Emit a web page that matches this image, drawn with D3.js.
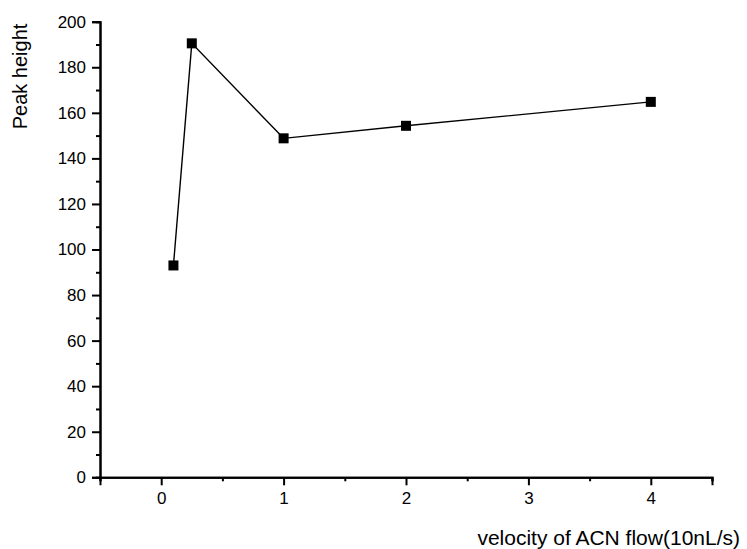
<!DOCTYPE html>
<html>
<head>
<meta charset="utf-8">
<script src="https://cdn.jsdelivr.net/npm/d3@7"></script>
<style>
  html, body { margin: 0; padding: 0; background: #fff; }
  svg { display: block; font-family: "Liberation Sans", Arial, sans-serif; }
</style>
</head>
<body>
<svg id="chart" width="747" height="549"></svg>
<script>
// data
var velocity = [0.1, 0.25, 1, 2, 4];
var peakHeight = [93, 190.5, 148.8, 154.3, 164.8];
var xTicks = [0, 1, 2, 3, 4];
var yTicks = [0, 20, 40, 60, 80, 100, 120, 140, 160, 180, 200];

var svg = d3.select('#chart');

var x = d3.scaleLinear().domain([-0.5, 4.5]).range([100, 712]);
var y = d3.scaleLinear().domain([0, 200]).range([477.3, 21.7]);

var points = velocity.map(function(v, i) {
  return { x: v, y: peakHeight[i] };
});

// minor ticks first so major ones sit on top
var xMinor = d3.range(-0.5, 4.51, 0.5).filter(function(t) { return t % 1 !== 0; });
var yMinor = d3.range(10, 200, 20);

var xAxisG = svg.append('g').attr('transform', 'translate(0,' + y(0) + ')');
xAxisG.call(d3.axisBottom(x).tickValues(xMinor).tickSize(4).tickFormat(''));
xAxisG.append('g')
  .call(d3.axisBottom(x).tickValues(xTicks).tickSize(8).tickPadding(7)
    .tickFormat(d3.format('d')));

var yAxisG = svg.append('g').attr('transform', 'translate(' + x(-0.5) + ',0)');
yAxisG.call(d3.axisLeft(y).tickValues(yMinor).tickSize(4).tickFormat(''));
yAxisG.append('g')
  .call(d3.axisLeft(y).tickValues(yTicks).tickSize(8).tickPadding(6)
    .tickFormat(d3.format('d')));

svg.selectAll('.domain').attr('stroke', '#000').attr('stroke-width', 2);
svg.selectAll('.tick line').attr('stroke', '#000').attr('stroke-width', 2);
svg.selectAll('.tick text')
  .attr('fill', '#000')
  .style('font-size', '17px')
  .style('font-family', '"Liberation Sans", Arial, sans-serif');

// data line
var line = d3.line()
  .x(function(d) { return x(d.x); })
  .y(function(d) { return y(d.y); });

svg.append('path')
  .datum(points)
  .attr('d', line)
  .attr('fill', 'none')
  .attr('stroke', '#000')
  .attr('stroke-width', 1.4);

var size = 10;
svg.selectAll('.pt')
  .data(points)
  .enter().append('rect')
  .classed('pt', true)
  .attr('x', function(d) { return x(d.x) - size / 2; })
  .attr('y', function(d) { return y(d.y) - size / 2; })
  .attr('width', size)
  .attr('height', size)
  .attr('fill', '#000');

// axis titles
svg.append('text')
  .attr('x', 740)
  .attr('y', 545)
  .attr('text-anchor', 'end')
  .style('font-size', '21px')
  .attr('fill', '#000')
  .text('velocity of ACN flow(10nL/s)');

svg.append('text')
  .attr('transform', 'translate(27,76.5) rotate(-90)')
  .attr('text-anchor', 'middle')
  .style('font-size', '20px')
  .attr('fill', '#000')
  .text('Peak height');
</script>
</body>
</html>
